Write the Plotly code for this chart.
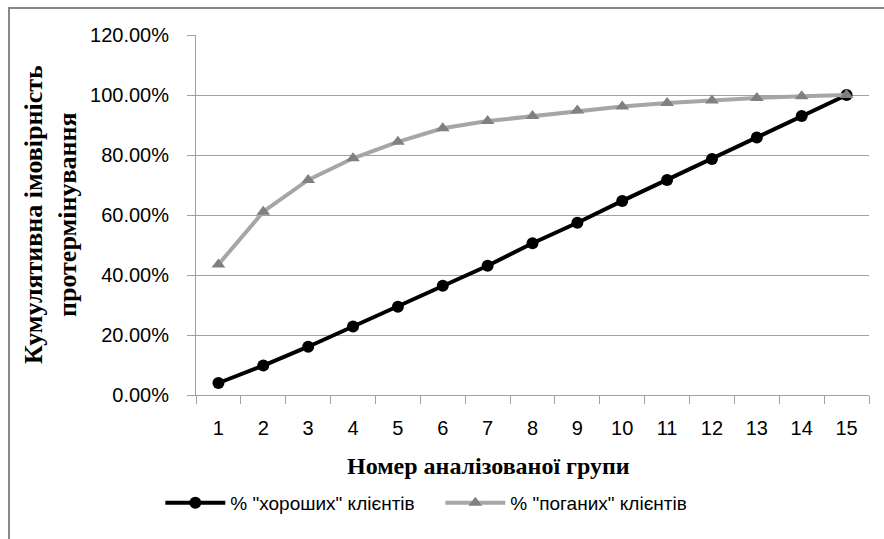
import plotly.graph_objects as go

# Group numbers and cumulative shares of clients
groups = [str(i) for i in range(1, 16)]
good_share = [0.040, 0.098, 0.161, 0.228, 0.294, 0.364, 0.431, 0.506,
              0.574, 0.647, 0.717, 0.787, 0.858, 0.930, 1.000]
bad_share = [0.435, 0.611, 0.717, 0.789, 0.844, 0.889, 0.913, 0.930,
             0.948, 0.962, 0.973, 0.982, 0.990, 0.996, 1.000]

good_name = '% "хороших" клієнтів'
bad_name = '% "поганих" клієнтів'
y_title_1 = "Кумулятивна імовірність"
y_title_2 = "протермінування"
x_title = "Номер аналізованої групи"

tick_font = dict(family="Liberation Sans, Arial, sans-serif", size=20, color="#000000")
x_title_font = dict(family="Liberation Serif, Times New Roman, serif", size=24, color="#000000")
y_title_font = dict(family="Liberation Serif, Times New Roman, serif", size=26, color="#000000")

fig = go.Figure()
fig.add_trace(go.Scatter(
    x=groups, y=good_share, name=good_name, mode="lines+markers",
    line=dict(color="#000000", width=4),
    marker=dict(symbol="circle", size=12, color="#000000"),
))
fig.add_trace(go.Scatter(
    x=groups, y=bad_share, name=bad_name, mode="lines+markers",
    line=dict(color="#a6a6a6", width=4),
    marker=dict(symbol="triangle-up", size=12, color="#808080"),
))

fig.update_layout(
    width=884, height=539,
    margin=dict(l=196, r=15, t=35, b=144),
    paper_bgcolor="#ffffff", plot_bgcolor="#ffffff",
    showlegend=True,
    legend=dict(
        orientation="h", x=-0.053, y=-0.30, xanchor="left", yanchor="middle",
        font=dict(family="Liberation Sans, Arial, sans-serif", size=19, color="#000000"),
        itemwidth=60, tracegroupgap=0,
        entrywidth=205, entrywidthmode="pixels",
    ),
    xaxis=dict(
        type="category", range=[-0.5, 14.5], tickson="boundaries", showgrid=False,
        ticks="outside", ticklen=8, tickcolor="#a0a0a0",
        showline=True, linecolor="#a0a0a0", linewidth=1,
        tickfont=tick_font, zeroline=False, ticklabelstandoff=15,
    ),
    yaxis=dict(
        range=[0, 1.2], dtick=0.2, tickformat=".2%",
        showgrid=True, gridcolor="#a0a0a0", gridwidth=1,
        ticks="outside", ticklen=8, tickcolor="#a0a0a0",
        showline=True, linecolor="#a0a0a0", linewidth=1,
        tickfont=tick_font, zeroline=False, ticklabelstandoff=14,
    ),
    annotations=[
        dict(text=f"<b>{y_title_1}</b>", xref="paper", yref="paper",
             x=(33 - 196) / 673, y=(395 - 215) / 360, textangle=-90,
             showarrow=False, font=y_title_font, xanchor="center", yanchor="middle"),
        dict(text=f"<b>{y_title_2}</b>", xref="paper", yref="paper",
             x=(67 - 196) / 673, y=(395 - 215) / 360, textangle=-90,
             showarrow=False, font=y_title_font, xanchor="center", yanchor="middle"),
        dict(text=f"<b>{x_title}</b>", xref="paper", yref="paper",
             x=(488 - 196) / 673, y=(395 - 466) / 360,
             showarrow=False, font=x_title_font, xanchor="center", yanchor="middle"),
    ],
    shapes=[
        dict(type="rect", xref="paper", yref="paper",
             x0=(9 - 196) / 673, x1=1.2, y0=-0.6, y1=(395 - 8) / 360,
             line=dict(color="#888888", width=2), fillcolor="rgba(0,0,0,0)", layer="below"),
    ],
)

fig.write_html("out.html")
